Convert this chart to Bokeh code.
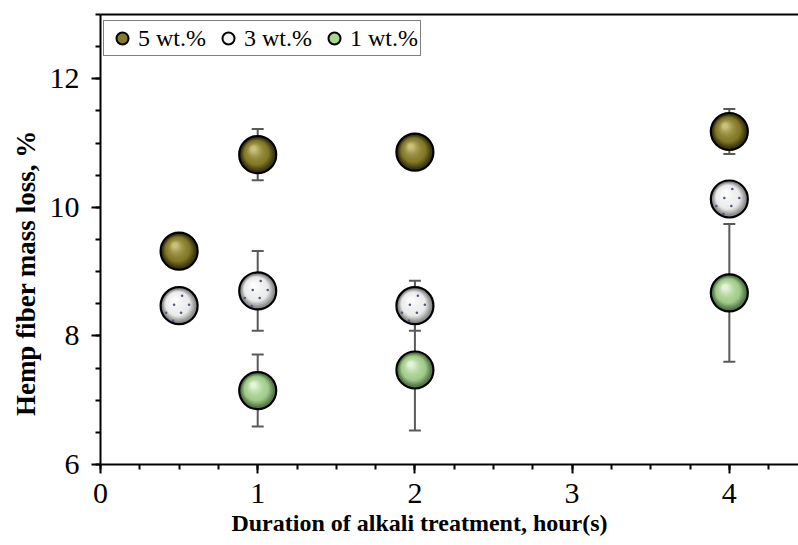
from bokeh.plotting import figure
from bokeh.models import (ColumnDataSource, Whisker, TeeHead, Legend, LegendItem,
                          LinearAxis, FixedTicker, Range1d, SingleIntervalTicker)
from bokeh.transform import dodge
from bokeh.embed import file_html
from bokeh.resources import INLINE

# ---------------- data ----------------
hours_5 = [0.5, 1, 2, 4]
loss_5 = [9.32, 10.82, 10.86, 11.18]
err_5 = [0.20, 0.40, 0.20, 0.35]

hours_3 = [0.5, 1, 2, 4]
loss_3 = [8.47, 8.70, 8.47, 10.13]
err_3 = [0.20, 0.62, 0.39, 0.20]

hours_1 = [1, 2, 4]
loss_1 = [7.15, 7.47, 8.67]
err_1 = [0.56, 0.94, 1.07]

labels = ["5 wt.%", "3 wt.%", "1 wt.%"]
NB = "\u00a0"
x_title = "Duration of alkali treatment, hour(s)" + NB * 10
y_title = "Hemp fiber mass loss, %" + NB * 10

# ---------------- layout ----------------
X_RANGE = (0, 4.44)
Y_RANGE = (6, 13)
W, H = 798, 545
BL, BR, BT, BB = 100, 0, 14, 81
FW = W - BL - BR
FH = H - BT - BB
PX_X = FW / (X_RANGE[1] - X_RANGE[0])
PX_Y = FH / (Y_RANGE[1] - Y_RANGE[0])

p = figure(width=W, height=H, x_range=Range1d(*X_RANGE), y_range=Range1d(*Y_RANGE),
           output_backend="svg", toolbar_location=None,
           min_border_left=BL, min_border_right=BR, min_border_top=BT, min_border_bottom=BB)
p.xgrid.visible = False
p.ygrid.visible = False
p.outline_line_color = None
p.background_fill_color = "white"
p.border_fill_color = "white"

p.xaxis[0].ticker = SingleIntervalTicker(interval=1, num_minor_ticks=4)
p.yaxis[0].ticker = SingleIntervalTicker(interval=2, num_minor_ticks=4)
p.xaxis[0].axis_label = x_title
p.yaxis[0].axis_label = y_title

for ax in (p.xaxis[0], p.yaxis[0]):
    ax.axis_line_width = 2
    ax.axis_line_color = "black"
    ax.major_tick_line_width = 2
    ax.minor_tick_line_width = 2
    ax.major_tick_line_color = "black"
    ax.minor_tick_line_color = "black"
    ax.major_tick_in = 0
    ax.major_tick_out = 9
    ax.minor_tick_in = 0
    ax.minor_tick_out = 5
    ax.major_label_text_font = "Liberation Serif"
    ax.major_label_text_font_size = "30px"
    ax.major_label_text_color = "black"
    ax.axis_label_text_font = "Liberation Serif"
    ax.axis_label_text_font_style = "bold"
    ax.axis_label_text_color = "black"
p.xaxis[0].axis_label_text_font_size = "24px"
p.yaxis[0].axis_label_text_font_size = "27px"
p.xaxis[0].major_label_standoff = 10
p.yaxis[0].major_label_standoff = 12
p.xaxis[0].axis_label_standoff = 4
p.yaxis[0].axis_label_standoff = 6

top = LinearAxis(ticker=FixedTicker(ticks=[]), axis_line_width=2, axis_line_color="black",
                 major_tick_out=0, minor_tick_out=0, major_label_text_font_size="0px")
p.add_layout(top, "above")

# ---------------- error bars ----------------
def whisker(xs, ys, es):
    src = ColumnDataSource(dict(x=xs, lo=[y - e for y, e in zip(ys, es)],
                                hi=[y + e for y, e in zip(ys, es)]))
    w = Whisker(base="x", lower="lo", upper="hi", source=src,
                line_color="#5a5a5a", line_width=2,
                upper_head=TeeHead(size=12, line_color="#5a5a5a", line_width=2),
                lower_head=TeeHead(size=12, line_color="#5a5a5a", line_width=2),
                level="underlay")
    p.add_layout(w)

whisker(hours_5, loss_5, err_5)
whisker(hours_3, loss_3, err_3)
whisker(hours_1, loss_1, err_1)

# ---------------- shaded spheres ----------------
def h2rgb(h):
    h = h.lstrip("#")
    return [int(h[i:i + 2], 16) for i in (0, 2, 4)]

def mix(c1, c2, t):
    a, b = h2rgb(c1), h2rgb(c2)
    return "#%02x%02x%02x" % tuple(int(round(a[i] + (b[i] - a[i]) * t)) for i in range(3))

S = 37
N = 14
HX, HY = -4.5, 6.0  # highlight offset in px (x right, y up)
# decorative speckle offsets (px, x right / y up) for the 3 wt.% spheres
SPECKLES = [(3, 10), (-5, 1), (10, 1), (-13, -7), (2, -7), (-6, -15)]

def sphere(xs, ys, edge, body, high, dots=False):
    src = ColumnDataSource(dict(x=xs, y=ys))
    p.scatter(x="x", y="y", source=src, size=S, fill_color=edge,
              line_color="black", line_width=2.2)
    for k in range(1, N):
        t = k / N
        size = (S - 3) * (1 - 0.9 * t)
        if t < 0.3:
            col = mix(edge, body, t / 0.3)
        else:
            col = mix(body, high, ((t - 0.3) / 0.7) ** 1.6)
        p.scatter(x=dodge("x", HX * t / PX_X), y=dodge("y", HY * t / PX_Y), source=src,
                  size=size, fill_color=col, line_color=None)
    if dots:
        for dx, dy in SPECKLES:
            p.scatter(x=dodge("x", dx / PX_X), y=dodge("y", dy / PX_Y), source=src,
                      size=2.6, fill_color="#4d5c82", line_color=None)

sphere(hours_5, loss_5, "#3c3810", "#857b2a", "#d4cd8c")
sphere(hours_3, loss_3, "#8c8c8c", "#ececec", "#ffffff", dots=True)
sphere(hours_1, loss_1, "#55784a", "#a3cd8b", "#f0fbe8")

# legend-only renderers (size 0: invisible on the plot)
leg_cols = ["#857b2a", "#f4f4f4", "#a8d490"]
leg_data = [(hours_5, loss_5), (hours_3, loss_3), (hours_1, loss_1)]
items = []
for lab, col, (xs, ys) in zip(labels, leg_cols, leg_data):
    r = p.scatter(x=xs, y=ys, size=0, fill_color=col, line_color="black", line_width=2)
    items.append(LegendItem(label=lab, renderers=[r]))

legend = Legend(items=items, orientation="horizontal", location=(3, FH - 42),
                glyph_width=32, glyph_height=30, padding=2, spacing=6, label_standoff=0,
                label_text_font="Liberation Serif", label_text_font_size="24px",
                label_text_color="black", border_line_color="black", border_line_width=1.5,
                background_fill_color="white", background_fill_alpha=1, margin=0)
p.add_layout(legend, "center")

open("out.html", "w").write(file_html(p, INLINE))
